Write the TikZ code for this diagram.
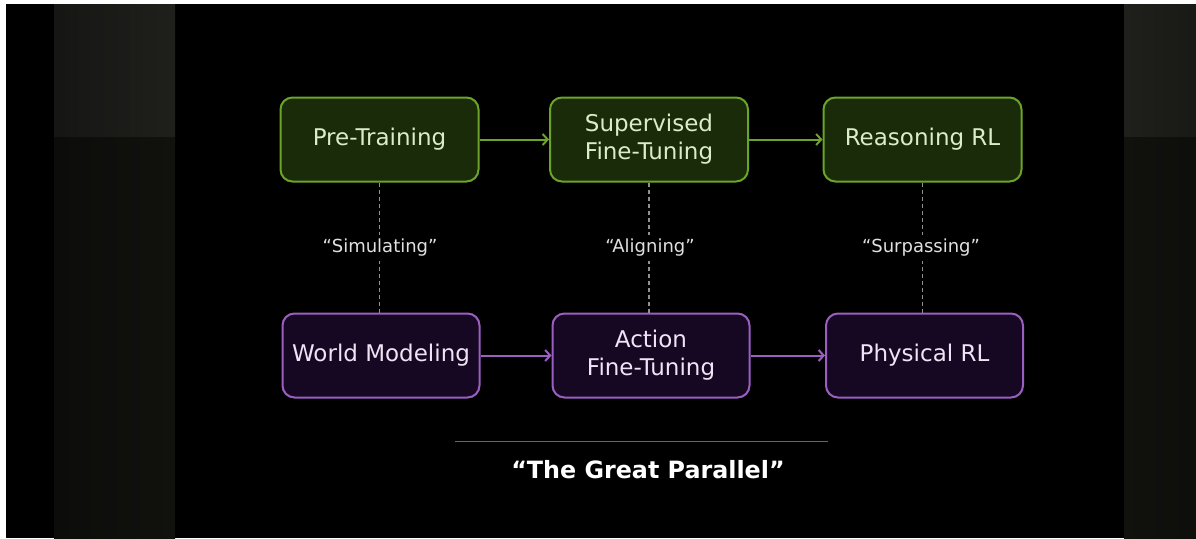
\documentclass[tikz,border=0pt]{standalone}
\usepackage{fontspec}
\setmainfont{DejaVu Sans}
\usetikzlibrary{arrows.meta}
\definecolor{gfill}{HTML}{1A2B0A}
\definecolor{gline}{HTML}{6BA32B}
\definecolor{gtext}{HTML}{DCEBC8}
\definecolor{pfill}{HTML}{160822}
\definecolor{pline}{HTML}{9B5FC2}
\definecolor{ptext}{HTML}{EFE4F5}
\definecolor{panelA}{HTML}{1F201C}
\definecolor{panelB}{HTML}{11120E}
\definecolor{dashc}{HTML}{909090}
\tikzset{
  gbox/.style={draw=gline, line width=2pt, fill=gfill, rounded corners=12pt,
    minimum width=198pt, minimum height=84pt, text=gtext, font=\fontsize{23}{28}\selectfont,
    align=center, inner sep=0pt},
  pbox/.style={draw=pline, line width=2pt, fill=pfill, rounded corners=12pt,
    minimum width=197pt, minimum height=84pt, text=ptext, font=\fontsize{23}{28}\selectfont,
    align=center, inner sep=0pt},
  garrow/.style={draw=gline, line width=2pt, -{Straight Barb[length=5pt,width=11pt]}},
  parrow/.style={draw=pline, line width=2pt, -{Straight Barb[length=5pt,width=11pt]}},
  dline/.style={draw=dashc, line width=1.2pt, dash pattern=on 4pt off 3pt},
  lab/.style={fill=black, text=white!88!black, font=\fontsize{18}{21}\selectfont, inner sep=4pt}
}
\begin{document}
\begin{tikzpicture}[x=1pt,y=-1pt]
\useasboundingbox (0,0) rectangle (1196,538);
\fill[white] (0,0) rectangle (1196,538);
\fill[black] (6,4) rectangle (1196,538);
\shade[left color=panelA!70!black, right color=panelA] (54,4) rectangle (175,137);
\shade[left color=panelB!70!black, right color=panelB] (54,137) rectangle (175,538);
\shade[left color=panelA, right color=panelA!80!black] (1124,4) rectangle (1196,137);
\shade[left color=panelB, right color=panelB!80!black] (1124,137) rectangle (1196,538);

\node[gbox] (pt) at (379.5,139.5) {Pre-Training};
\node[gbox] (sft) at (649,139.5) {Supervised\\Fine-Tuning};
\node[gbox] (rrl) at (922.5,139.5) {Reasoning RL};
\node[pbox] (wm) at (381,355.5) {World Modeling};
\node[pbox] (aft) at (651,355.5) {Action\\Fine-Tuning};
\node[pbox] (prl) at (924.5,355.5) {Physical RL};

\draw[dline] (pt.south) -- (pt.south |- wm.north);
\draw[dline] (sft.south) -- (sft.south |- aft.north);
\draw[dline] (rrl.south) -- (rrl.south |- prl.north);
\node[lab] (l1) at (380,248) {“Simulating”};
\node[lab] (l2) at (650,248) {“Aligning”};
\node[lab] (l3) at (921,248) {“Surpassing”};

\draw[garrow] (pt.east) -- (sft.west);
\draw[garrow] (sft.east) -- (rrl.west);
\draw[parrow] (wm.east) -- (aft.west);
\draw[parrow] (aft.east) -- (prl.west);

\coordinate (s1) at (455,441);
\coordinate (s2) at (828,441);
\draw[draw=white!40!black, line width=1pt] (s1) -- (s2);
\node[text=white, font=\bfseries\fontsize{23.8}{28}\selectfont] (title) at (648,470) {“The Great Parallel”};
\end{tikzpicture}
\end{document}
